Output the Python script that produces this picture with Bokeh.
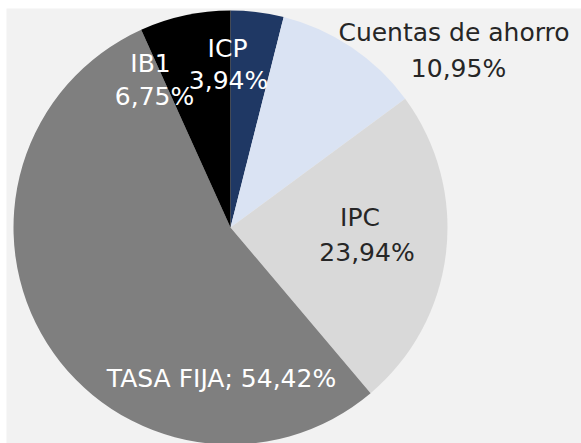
import math
from bokeh.plotting import figure
from bokeh.models import ColumnDataSource, Range1d
from bokeh.core.properties import value
from bokeh.embed import file_html
from bokeh.resources import INLINE

# data (clockwise from 12 o'clock)
categories = ["ICP", "Cuentas de ahorro", "IPC", "TASA FIJA", "IB1"]
shares = [3.94, 10.95, 23.94, 54.42, 6.75]
colors = ["#1f3864", "#dae3f3", "#d9d9d9", "#7f7f7f", "#000000"]
text_colors = ["#ffffff", "#262626", "#262626", "#ffffff", "#ffffff"]
single_line = [False, False, False, True, False]

# layout (page pixels)
W, H = 581, 443
LEFT, TOP = 6, 8
PCX, PCY, R_PX = 230.0, 227.0, 217.0
# label line centres in page pixels: (name line, value line)
name_pos = [(227, 47.5), (453.5, 32), (359.5, 216.5), (221, 378), (150, 63)]
value_pos = [(228, 80), (458, 67.5), (366.5, 252), None, (154, 95.5)]

def to_data(px, py):
    return (px - PCX) / R_PX, (PCY - py) / R_PX

total = sum(shares)
starts, ends = [], []
acc = 0.0
for v in shares:
    starts.append(math.pi / 2 - 2 * math.pi * acc / total)
    acc += v
    ends.append(math.pi / 2 - 2 * math.pi * acc / total)

src = ColumnDataSource(dict(cat=categories, start=starts, end=ends, color=colors))

fw, fh = W - LEFT, H - TOP
cx, cy = PCX - LEFT, PCY - TOP
p = figure(width=W, height=H, output_backend="svg", toolbar_location=None,
           x_range=Range1d(-cx / R_PX, (fw - cx) / R_PX),
           y_range=Range1d(-(fh - cy) / R_PX, cy / R_PX),
           min_border_left=LEFT, min_border_top=TOP,
           min_border_right=0, min_border_bottom=0)
p.axis.visible = False
p.grid.visible = False
p.outline_line_color = None
p.background_fill_color = "#f2f2f2"
p.border_fill_color = "#ffffff"

p.wedge(x=0, y=0, radius=1, start_angle="start", end_angle="end",
        direction="clock", fill_color="color", line_color=None, source=src)

def fmt(v):
    return ("%.2f" % v).replace(".", ",") + "%"

tx, ty, tt, tc = [], [], [], []
for i, c in enumerate(categories):
    if single_line[i]:
        x, y = to_data(*name_pos[i])
        tx.append(x); ty.append(y)
        tt.append(c + "; " + fmt(shares[i])); tc.append(text_colors[i])
    else:
        x, y = to_data(*name_pos[i])
        tx.append(x); ty.append(y); tt.append(c); tc.append(text_colors[i])
        x, y = to_data(*value_pos[i])
        tx.append(x); ty.append(y); tt.append(fmt(shares[i])); tc.append(text_colors[i])

tsrc = ColumnDataSource(dict(x=tx, y=ty, t=tt, c=tc))
p.text(x="x", y="y", text="t", text_color="c", source=tsrc,
       text_align="center", text_baseline="middle",
       text_font=value("DejaVu Sans"), text_font_size="25px")

open("out.html", "w").write(file_html(p, INLINE))
